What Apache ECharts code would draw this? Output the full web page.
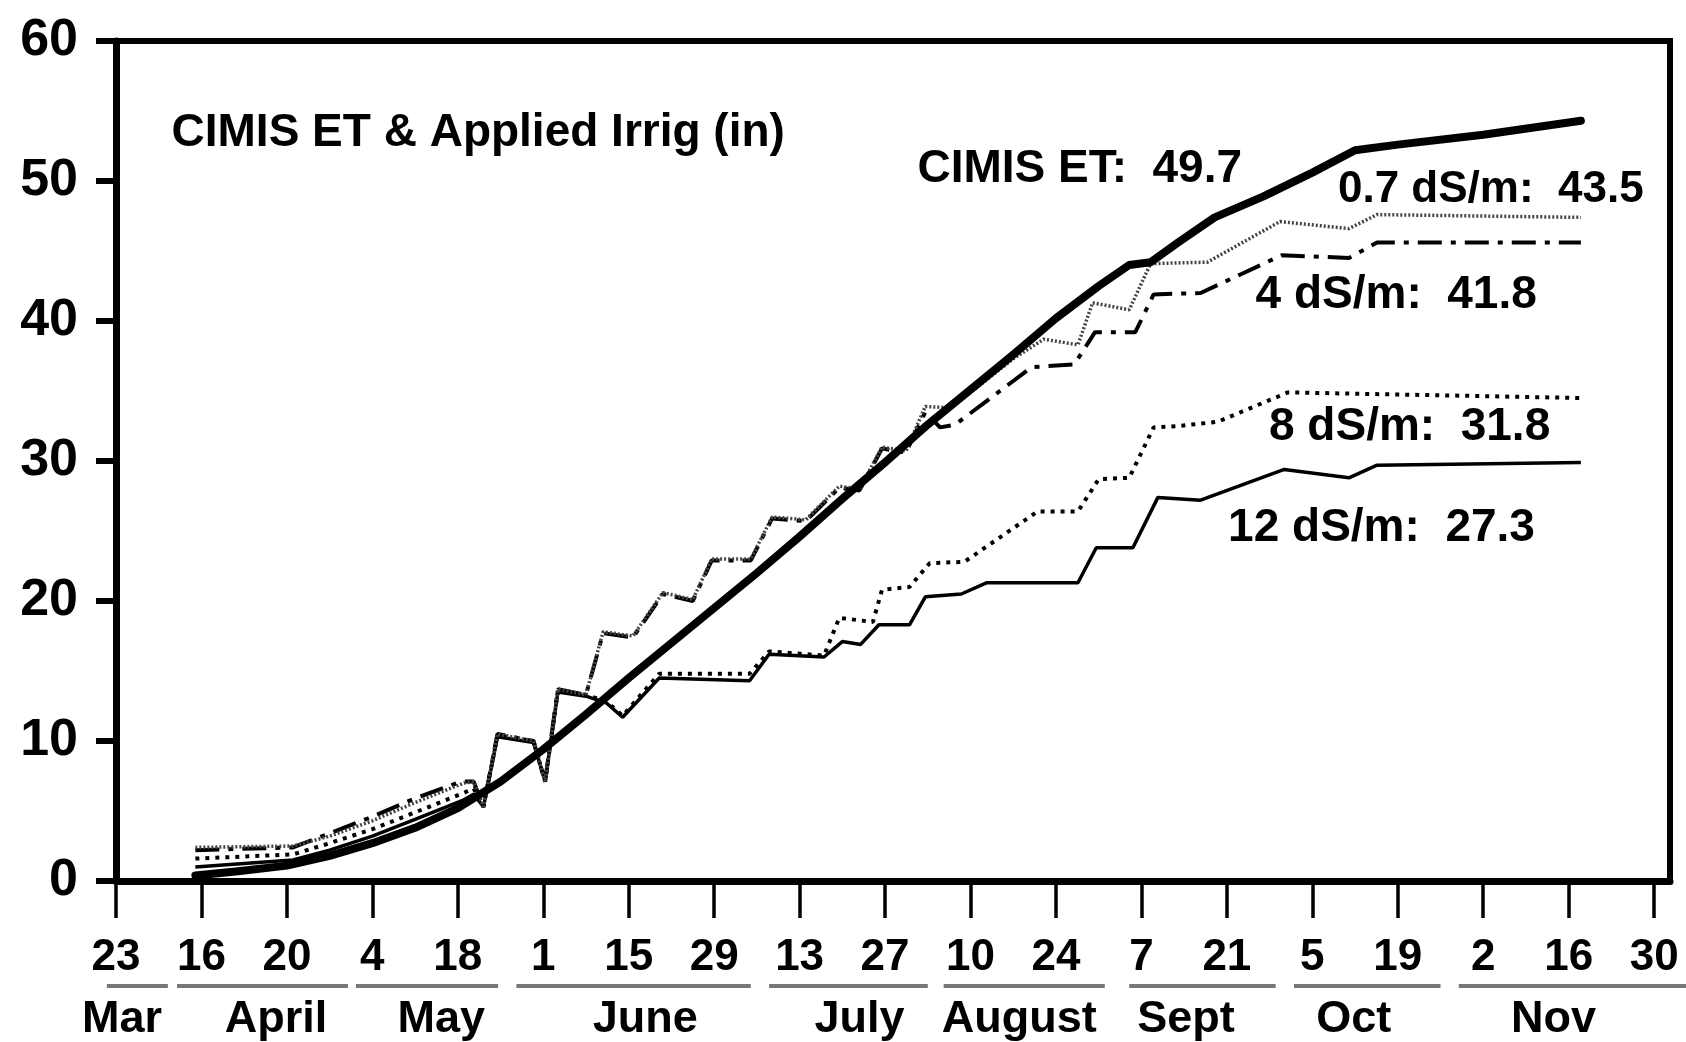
<!DOCTYPE html>
<html>
<head>
<meta charset="utf-8">
<script src="https://cdn.jsdelivr.net/npm/echarts@6/dist/echarts.min.js"></script>
<style>
  html, body { margin: 0; padding: 0; background: #fff; }
  #chart { width: 1686px; height: 1042px; }
</style>
</head>
<body>
<div id="chart"></div>
<script>
// ---- Data (x = days after 23 March, y = inches) ----
const tickLabels = ['23','16','20','4','18','1','15','29','13','27','10','24','7','21','5','19','2','16','30'];
const monthNames = ['Mar','April','May','June','July','August','Sept','Oct','Nov'];

const cimisET = [[13,0.4],[20,0.7],[28,1.1],[35,1.8],[42,2.7],[49,3.8],[56,5.2],[63,7.1],[70,9.4],[77,11.9],[84,14.5],[91,17.0],[98,19.5],[105,22.0],[112,24.6],[119,27.3],[126,29.9],[133,32.6],[140,35.1],[147,37.6],[154,40.2],[161,42.5],[166,44.0],[169.5,44.2],[174,45.6],[180,47.4],[188,48.9],[196,50.6],[203,52.2],[210,52.6],[224,53.3],[240,54.3]];

const irrig07 = [[13,2.4],[29,2.5],[35,3.2],[42,4.3],[49,5.6],[57,7.0],[58.6,7.1],[60.2,5.3],[62.5,10.5],[68.4,10.0],[70.3,7.1],[72.4,13.7],[77,13.3],[79.8,17.8],[84.7,17.5],[89.6,20.6],[94.5,20.1],[97.6,23.0],[104,23.0],[107.5,26.0],[113,25.8],[118.5,28.2],[121.8,28.0],[125.5,31.0],[129.4,30.7],[132.6,33.9],[136.4,33.8],[140,34.9],[147,37.3],[152,38.7],[157.6,38.3],[160,41.3],[166,40.8],[169.5,44.1],[178.8,44.2],[190.7,47.1],[202,46.6],[206.6,47.6],[240,47.4]];

const irrig4 = [[13,2.2],[29,2.4],[35,3.4],[42,4.6],[49,5.9],[56.5,7.1],[58.6,7.1],[60.2,5.3],[62.5,10.5],[68.4,10.0],[70.3,7.1],[72.4,13.7],[77,13.3],[79.8,17.7],[84.7,17.4],[89.6,20.5],[94.5,20.0],[97.6,22.9],[104,22.9],[107.5,25.9],[113,25.7],[118.5,28.1],[121.8,27.9],[125.5,30.9],[129.4,30.6],[132.6,33.5],[135,32.4],[137.5,32.6],[150,36.7],[157,36.9],[160.4,39.2],[167,39.2],[170,41.9],[177.7,42.0],[191,44.7],[202,44.5],[206.6,45.6],[240,45.6]];

const irrig8 = [[13,1.6],[29,1.9],[35,2.7],[42,3.7],[49,4.9],[57,6.3],[58.6,6.6],[60.2,5.3],[62.5,10.4],[68.4,10.0],[70.3,7.1],[72.4,13.6],[77,13.3],[80.4,12.8],[83,11.8],[89,14.8],[103.8,14.8],[107,16.4],[116,16.1],[118.5,18.8],[124,18.5],[125.5,20.8],[130,21.0],[133.3,22.7],[139,22.8],[151,26.4],[157.6,26.4],[161,28.7],[166,28.8],[170,32.4],[174,32.5],[180.5,32.8],[192,34.9],[240,34.5]];

const irrig12 = [[13,1.0],[29,1.5],[35,2.2],[42,3.2],[49,4.4],[57,5.8],[58.6,6.2],[60.2,5.3],[62.5,10.3],[68.4,9.9],[70.3,7.1],[72.4,13.5],[77,13.2],[80.4,12.7],[83,11.7],[89,14.5],[103.8,14.3],[107,16.2],[116,16.0],[119,17.1],[122,16.9],[125,18.3],[130,18.3],[132.6,20.3],[138.5,20.5],[142.6,21.3],[157.6,21.3],[160.6,23.8],[166.6,23.8],[170.7,27.4],[177.7,27.2],[191.4,29.4],[202,28.8],[206.6,29.7],[240,29.9]];

const annotationTexts = ['CIMIS ET & Applied Irrig (in)', 'CIMIS ET:  49.7', '0.7 dS/m:  43.5', '4 dS/m:  41.8', '8 dS/m:  31.8', '12 dS/m:  27.3'];

// ---- Layout (positions in axis units, sizes) ----
const TICK_STEP = 14;
const tickValues = tickLabels.map((_, i) => i * TICK_STEP);
const monthLabelPos = [1, 26.2, 53.3, 86.7, 121.8, 148, 175.3, 202.8, 235.5];
const monthBarSpans = [[-1.5,8.5],[10,38],[39.3,62.6],[65.6,104],[107,133],[135.6,162],[166,190],[193,217],[220,258]];
const annotationAnchors = [[9.1,53.4],[131.3,50.8],[200.2,49.4],[186.7,41.8],[188.9,32.4],[182.2,25.2]];
const annotationSizes = [46, 46, 44, 46, 46, 46];

const FONT = '"Liberation Sans", Arial, Helvetica, sans-serif';
const chart = echarts.init(document.getElementById('chart'), null, { renderer: 'canvas' });

const option = {
  animation: false,
  backgroundColor: '#fff',
  grid: { left: 116, right: 16, top: 41, bottom: 160, show: true, borderColor: '#000', borderWidth: 6, backgroundColor: 'transparent' },
  xAxis: [
    {
      type: 'value', min: 0, max: 254.6, position: 'bottom',
      axisLine: { show: true, onZero: false, lineStyle: { color: '#000', width: 7 } },
      axisTick: { show: true, inside: false, length: 37, customValues: tickValues, lineStyle: { color: '#000', width: 3.5 } },
      splitLine: { show: false },
      axisLabel: {
        customValues: tickValues, margin: 55, color: '#000', fontFamily: FONT, fontWeight: 'bold', fontSize: 44,
        formatter: v => tickLabels[Math.round(v / TICK_STEP)] || ''
      }
    },
    {
      type: 'value', min: 0, max: 254.6, position: 'bottom', offset: 100,
      axisLine: { show: false }, axisTick: { show: false }, splitLine: { show: false },
      axisLabel: {
        customValues: monthLabelPos, margin: 16, color: '#000', fontFamily: FONT, fontWeight: 'bold', fontSize: 45,
        formatter: v => { const i = monthLabelPos.indexOf(v); return i >= 0 ? monthNames[i] : ''; }
      }
    }
  ],
  yAxis: {
    type: 'value', min: 0, max: 60, interval: 10,
    axisLine: { show: true, lineStyle: { color: '#000', width: 7 } },
    axisTick: { show: true, inside: false, length: 20, lineStyle: { color: '#000', width: 6 } },
    splitLine: { show: false },
    axisLabel: { margin: 38, color: '#000', fontFamily: FONT, fontWeight: 'bold', fontSize: 52 }
  },
  series: [
    { name: '12 dS/m', type: 'line', data: irrig12, showSymbol: false, symbol: 'none',
      lineStyle: { color: '#000', width: 3.5, type: 'solid' } },
    { name: '8 dS/m', type: 'line', data: irrig8, showSymbol: false, symbol: 'none',
      lineStyle: { color: '#000', width: 4, type: [4, 6] } },
    { name: '4 dS/m', type: 'line', data: irrig4, showSymbol: false, symbol: 'none',
      lineStyle: { color: '#000', width: 4, type: [24, 9, 5, 9] } },
    { name: '0.7 dS/m', type: 'line', data: irrig07, showSymbol: false, symbol: 'none',
      lineStyle: { color: '#444', width: 3.5, type: [2, 2] } },
    { name: 'CIMIS ET', type: 'line', data: cimisET, showSymbol: false, symbol: 'none',
      lineStyle: { color: '#000', width: 8, cap: 'round', join: 'round' } }
  ]
};
chart.setOption(option);

// Text annotations and month underlines positioned through the chart's own scales
const graphics = [];
annotationTexts.forEach((t, i) => {
  const p = chart.convertToPixel({ gridIndex: 0 }, annotationAnchors[i]);
  graphics.push({ type: 'text', x: p[0], y: p[1], z: 10,
    style: { text: t, fill: '#000', font: 'bold ' + annotationSizes[i] + 'px ' + FONT, align: 'left', verticalAlign: 'middle' } });
});
const y0 = chart.convertToPixel({ gridIndex: 0 }, [0, 0])[1];
monthBarSpans.forEach(s => {
  const a = chart.convertToPixel({ gridIndex: 0 }, [s[0], 0])[0];
  const b = chart.convertToPixel({ gridIndex: 0 }, [s[1], 0])[0];
  graphics.push({ type: 'line', z: 10, shape: { x1: a, y1: y0 + 105, x2: b, y2: y0 + 105 },
    style: { stroke: '#777', lineWidth: 4 } });
});
chart.setOption({ graphic: graphics });
</script>
</body>
</html>
